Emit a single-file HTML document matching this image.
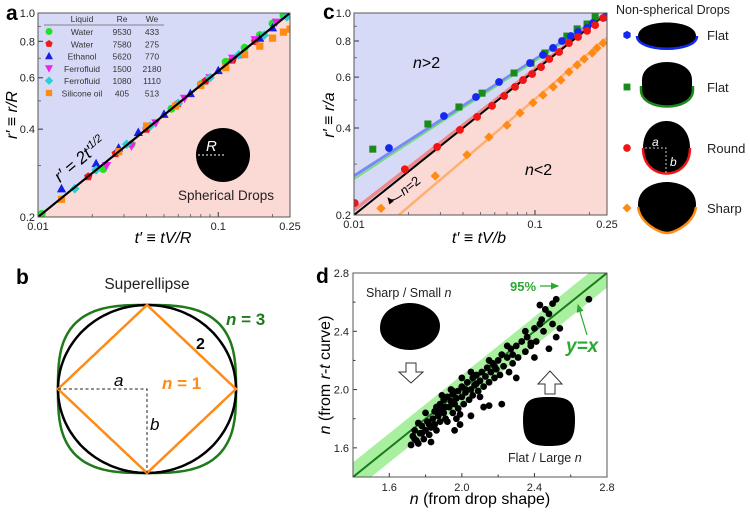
<!DOCTYPE html>
<html><head><meta charset="utf-8"><style>
html,body{margin:0;padding:0;background:#fff;}
svg{display:block;font-family:"Liberation Sans",Arial,sans-serif;}
</style></head><body>
<svg id="fig" width="750" height="512" viewBox="0 0 750 512" xmlns="http://www.w3.org/2000/svg">
<defs>
<clipPath id="clipA"><rect x="38" y="13" width="252" height="204"/></clipPath>
<clipPath id="clipC"><rect x="354" y="13" width="253" height="202"/></clipPath>
<clipPath id="clipD"><rect x="353" y="273" width="254" height="204"/></clipPath>
<marker id="arrG" markerWidth="8" markerHeight="8" refX="6" refY="4" orient="auto"><path d="M0,1 L7,4 L0,7 Z" fill="#2aa830"/></marker>
<marker id="arrK" markerWidth="8" markerHeight="8" refX="6" refY="4" orient="auto"><path d="M0,1 L7,4 L0,7 Z" fill="#000"/></marker>
</defs>
<g id="gA"></g>
<g id="gB"></g>
<g id="gC"></g>
<g id="gD"></g>
</svg>
<script>
// ---------- Panel a data ----------
const aGreenT=[0.0105,0.023,0.033,0.055,0.08,0.11,0.14,0.17,0.2,0.23];
const aGreenR=[0.205,0.292,0.355,0.47,0.57,0.68,0.76,0.84,0.92,0.98];
const aRedT=[0.019,0.027,0.04,0.06,0.085,0.12,0.16];
const aRedR=[0.275,0.33,0.4,0.49,0.585,0.69,0.8];
const aBlueT=[0.0135,0.021,0.028,0.036,0.05,0.07,0.1,0.13,0.17,0.2];
const aBlueR=[0.25,0.305,0.345,0.39,0.45,0.53,0.635,0.72,0.82,0.89];
const aMagT=[0.024,0.033,0.045,0.065,0.09,0.12,0.16,0.21,0.24];
const aMagR=[0.3,0.35,0.42,0.51,0.6,0.7,0.81,0.93,0.99];
const aCyanT=[0.016,0.021,0.031,0.042,0.06,0.09,0.13,0.18,0.24];
const aCyanR=[0.25,0.29,0.355,0.41,0.49,0.6,0.72,0.84,0.97];
const aOrT=[0.0135,0.028,0.04,0.058,0.08,0.11,0.14,0.17,0.2,0.23,0.25];
const aOrR=[0.23,0.335,0.41,0.48,0.565,0.65,0.72,0.77,0.82,0.86,0.88];
const aLegendLiquid=["Water","Water","Ethanol","Ferrofluid","Ferrofluid","Silicone oil"];
const aLegendRe=["9530","7580","5620","1500","1080","405"];
const aLegendWe=["433","275","770","2180","1110","513"];
const logYTicks=[0.2,0.4,0.6,0.8,1.0];
const logYLabels=["0.2","0.4","0.6","0.8","1.0"];
const logXTicks=[0.01,0.1,0.25];
const logXLabels=["0.01","0.1","0.25"];
// ---------- Panel c data ----------
const cBlueT=[0.0156,0.0314,0.0472,0.0633,0.0939,0.1107,0.1259,0.141,0.158,0.173,0.194,0.209,0.244];
const cBlueR=[0.341,0.440,0.512,0.577,0.671,0.716,0.757,0.800,0.832,0.859,0.887,0.923,0.968];
const cGreenT=[0.0127,0.0256,0.0380,0.0510,0.0766,0.0951,0.1135,0.150,0.171,0.194,0.215];
const cGreenR=[0.338,0.413,0.473,0.528,0.620,0.671,0.727,0.832,0.881,0.916,0.968];
const cRedT=[0.0101,0.0191,0.0288,0.0385,0.0479,0.0579,0.0675,0.0776,0.0859,0.0964,0.108,0.120,0.136,0.154,0.173,0.194,0.215,0.238];
const cRedR=[0.22,0.288,0.344,0.394,0.437,0.477,0.516,0.555,0.586,0.615,0.650,0.693,0.733,0.787,0.826,0.867,0.908,0.961];
const cOrT=[0.0141,0.0281,0.0421,0.0557,0.070,0.0826,0.0975,0.1107,0.126,0.139,0.154,0.171,0.187,0.207,0.220,0.238];
const cOrR=[0.211,0.273,0.323,0.372,0.409,0.451,0.489,0.520,0.555,0.586,0.625,0.661,0.693,0.727,0.757,0.787];
const cFitBlueT=[0.01,0.25], cFitBlueR=[0.273,1.0];
const cFitGreenT=[0.01,0.25], cFitGreenR=[0.266,0.99];
const cFitRedT=[0.01,0.25], cFitRedR=[0.208,1.0];
const cFitBlackT=[0.01,0.25], cFitBlackR=[0.2,1.0];
const cFitOrT=[0.0177,0.25], cFitOrR=[0.2,0.82];
// ---------- Panel d data ----------
const dShape=[1.72,1.73,1.74,1.75,1.76,1.77,1.78,1.79,1.8,1.81,1.82,1.83,1.84,1.85,1.85,1.86,1.87,1.88,1.88,1.89,1.90,1.90,1.91,1.92,1.93,1.94,1.95,1.95,1.96,1.97,1.97,1.98,1.98,1.99,2.0,2.0,2.01,2.02,2.03,2.04,2.05,2.06,2.06,2.07,2.08,2.09,2.10,2.11,2.12,2.13,2.14,2.15,2.16,2.17,2.18,2.19,2.2,2.21,2.22,2.23,2.25,2.26,2.27,2.28,2.30,2.31,2.33,2.35,2.36,2.38,2.40,2.41,2.43,2.45,2.46,2.48,2.50,2.50,2.52,2.52,2.54,2.48,2.70,2.43,1.83,1.86,1.92,1.96,1.99,2.05,2.12,2.15,2.22,2.10,2.3,2.4,1.76,1.8,1.89,1.94,2.0,2.05,2.15,2.25,2.35,1.74,1.78,1.82,1.87,1.91,1.95,2.02,2.08,2.18,2.28,2.38,2.44];
const dCurve=[1.62,1.68,1.72,1.65,1.63,1.70,1.75,1.66,1.72,1.78,1.69,1.74,1.80,1.85,1.76,1.88,1.82,1.90,1.78,1.86,1.93,1.84,1.80,1.95,1.88,1.92,1.84,1.97,1.90,1.80,1.94,1.99,1.87,1.76,1.95,2.02,1.90,1.98,2.05,1.93,2.0,2.08,1.96,2.03,2.10,1.99,2.06,2.12,2.02,2.09,2.15,2.05,2.12,2.18,2.08,2.14,2.20,2.10,2.24,2.16,2.22,2.12,2.28,2.18,2.30,2.22,2.33,2.26,2.36,2.30,2.42,2.33,2.45,2.40,2.55,2.52,2.59,2.45,2.62,2.36,2.42,2.28,2.62,2.58,1.64,1.72,1.78,1.72,1.83,1.82,1.88,1.89,1.9,1.95,2.08,2.22,1.77,1.84,1.96,2.0,2.08,2.12,2.20,2.30,2.40,1.66,1.70,1.76,1.86,1.88,1.99,2.00,2.04,2.16,2.24,2.32,2.48];
const dTicks=[1.6,2.0,2.4,2.8];
const dTickLabels=["1.6","2.0","2.4","2.8"];
const dBand=0.1;

const NS='http://www.w3.org/2000/svg';
function mk(tag,attrs,parent){const e=document.createElementNS(NS,tag);for(const k in attrs)e.setAttribute(k,attrs[k]);parent.appendChild(e);return e;}
function txt(s,attrs,parent){const e=mk('text',attrs,parent);e.textContent=s;return e;}
function logScale(d0,d1,p0,p1){return v=>p0+(Math.log10(v)-Math.log10(d0))/(Math.log10(d1)-Math.log10(d0))*(p1-p0);}
function linScale(d0,d1,p0,p1){return v=>p0+(v-d0)/(d1-d0)*(p1-p0);}
function markerPath(type,x,y,s){
  if(type==='circle')return `M${x-s},${y}a${s},${s} 0 1,0 ${2*s},0a${s},${s} 0 1,0 ${-2*s},0Z`;
  if(type==='square')return `M${x-s*0.9},${y-s*0.9}h${1.8*s}v${1.8*s}h${-1.8*s}Z`;
  if(type==='diamond')return `M${x},${y-s*1.2}L${x+s*1.2},${y}L${x},${y+s*1.2}L${x-s*1.2},${y}Z`;
  if(type==='tri')return `M${x},${y-s*1.2}L${x+s*1.15},${y+s*0.9}L${x-s*1.15},${y+s*0.9}Z`;
  if(type==='tridown')return `M${x},${y+s*1.2}L${x+s*1.15},${y-s*0.9}L${x-s*1.15},${y-s*0.9}Z`;
  let n=type==='pent'?5:6,p='';
  for(let i=0;i<n;i++){const a=-Math.PI/2+i*2*Math.PI/n;p+=(i?'L':'M')+(x+s*1.1*Math.cos(a))+','+(y+s*1.1*Math.sin(a));}
  return p+'Z';
}
function logAxes(g,xs,ys,x0,x1,y0,y1,xMinor,yMinor){
  for(const v of xMinor){const l=mk('line',{x1:xs(v),x2:xs(v),y1:y1,y2:y1-3,stroke:'#555','stroke-width':0.8},g);}
  for(const v of yMinor){const l=mk('line',{x1:x0,x2:x0+3,y1:ys(v),y2:ys(v),stroke:'#555','stroke-width':0.8},g);}
  logXTicks.forEach((v,i)=>{const l=mk('line',{x1:xs(v),x2:xs(v),y1:y1,y2:y1-5,stroke:'#333','stroke-width':1},g);
    const t=txt(logXLabels[i],{x:xs(v),y:y1+13,'font-size':11,'text-anchor':'middle',fill:'#222'},g);});
  logYTicks.forEach((v,i)=>{const l=mk('line',{x1:x0,x2:x0+5,y1:ys(v),y2:ys(v),stroke:'#333','stroke-width':1},g);
    const t=txt(logYLabels[i],{x:x0-3,y:ys(v)+4,'font-size':11,'text-anchor':'end',fill:'#222'},g);});
  const f=mk('rect',{x:x0,y:y0,width:x1-x0,height:y1-y0,fill:'none',stroke:'#555','stroke-width':1},g);
}
const xMinor=[0.02,0.03,0.04,0.05,0.06,0.07,0.08,0.09,0.2];
const yMinor=[0.3,0.5,0.7,0.9];

// ===== Panel a =====
(function(){
  const g=document.getElementById('gA');
  const X0=38,X1=290,Y0=13,Y1=217;
  const xs=logScale(0.01,0.25,X0,X1), ys=logScale(0.2,1.0,Y1,Y0);
  let p=mk('path',{d:`M${X0},${Y0}H${X1}L${X0},${Y1}Z`,fill:'#d7daf7'},g);
  p=mk('path',{d:`M${X1},${Y0}V${Y1}H${X0}Z`,fill:'#fbd9d5'},g);
  const lab=txt('a',{x:6,y:20,'font-size':21,'font-weight':'bold'},g);
  const dc=mk('circle',{cx:223,cy:155,r:27,fill:'#000'},g);
  const dl=mk('line',{x1:198,x2:224,y1:155,y2:155,stroke:'#fff','stroke-width':1,'stroke-dasharray':'2,2'},g);
  let t=txt('R',{x:206,y:151,'font-size':15,'font-style':'italic',fill:'#fff'},g);
  t=txt('Spherical Drops',{x:226,y:200,'font-size':13.5,'text-anchor':'middle',fill:'#222'},g);
  const series=[[aGreenT,aGreenR,'circle','#22e02a','green'],[aRedT,aRedR,'pent','#f01818','red'],[aBlueT,aBlueR,'tri','#1420e8','blue'],[aMagT,aMagR,'tridown','#f020f0','magenta'],[aCyanT,aCyanR,'diamond','#28d0d0','cyan'],[aOrT,aOrR,'square','#ff8a14','orange']];
  const sg=mk('g',{'clip-path':'url(#clipA)'},g);
  series.forEach(s=>{s[0].forEach((v,i)=>{const m=mk('path',{d:markerPath(s[2],xs(v),ys(s[1][i]),4),fill:s[3]},sg);});});
  const ln=mk('line',{x1:xs(0.01),y1:ys(0.2),x2:xs(0.25),y2:ys(1.0),stroke:'#000','stroke-width':2.2},sg);
  t=mk('text',{x:0,y:0,'font-size':17,'font-style':'italic',transform:'translate(60,183) rotate(-40)',fill:'#000'},g);t.innerHTML='r′ = 2t′<tspan dy="-6" font-size="11">1/2</tspan>';
  const lg=mk('g',{},g);
  const hx=[82,122,152],hs=['Liquid','Re','We'];
  hs.forEach((h,i)=>{const e=txt(h,{x:hx[i],y:22,'font-size':8.5,'text-anchor':'middle',fill:'#333'},lg);});
  const hl=mk('line',{x1:44,x2:164,y1:25,y2:25,stroke:'#666','stroke-width':0.7},lg);
  aLegendLiquid.forEach((L,i)=>{const y=32+i*12.3;
    const m=mk('path',{d:markerPath(series[i][2],49,y-0.5,3.5),fill:series[i][3]},lg);
    let e=txt(L,{x:82,y:y+3,'font-size':8.5,'text-anchor':'middle',fill:'#333'},lg);
    e=txt(aLegendRe[i],{x:122,y:y+3,'font-size':8.5,'text-anchor':'middle',fill:'#333'},lg);
    e=txt(aLegendWe[i],{x:152,y:y+3,'font-size':8.5,'text-anchor':'middle',fill:'#333'},lg);});
  logAxes(g,xs,ys,X0,X1,Y0,Y1,xMinor,yMinor);
  t=txt('r′ ≡ r/R',{x:0,y:0,'font-size':16,'font-style':'italic','text-anchor':'middle',transform:'translate(17,115) rotate(-90)'},g);
  t=txt('t′ ≡ tV/R',{x:163,y:243,'font-size':16,'font-style':'italic','text-anchor':'middle'},g);
})();

// ===== Panel b =====
(function(){
  const g=document.getElementById('gB');
  const cx=147,cy=389,a=89,b=84;
  let t=txt('b',{x:16,y:284,'font-size':21,'font-weight':'bold'},g);
  t=txt('Superellipse',{x:147,y:289,'font-size':15.5,'text-anchor':'middle',fill:'#222'},g);
  function se(n){let d='';for(let i=0;i<=200;i++){const th=i/200*2*Math.PI,c=Math.cos(th),s=Math.sin(th);const x=cx+a*Math.sign(c)*Math.pow(Math.abs(c),2/n),y=cy+b*Math.sign(s)*Math.pow(Math.abs(s),2/n);d+=(i?'L':'M')+x.toFixed(1)+','+y.toFixed(1);}return d+'Z';}
  let p=mk('path',{d:se(3),fill:'none',stroke:'#1f7a1a','stroke-width':2.5},g);
  p=mk('path',{d:se(2),fill:'none',stroke:'#000','stroke-width':2.5},g);
  p=mk('path',{d:se(1),fill:'none',stroke:'#ff8a14','stroke-width':2.5},g);
  p=mk('path',{d:`M${cx-a},${cy}H${cx}V${cy+b}`,fill:'none',stroke:'#222','stroke-width':1,'stroke-dasharray':'3,2.5'},g);
  t=txt('a',{x:114,y:386,'font-size':17,'font-style':'italic'},g);
  t=txt('b',{x:150,y:430,'font-size':17,'font-style':'italic'},g);
  t=txt('2',{x:196,y:349,'font-size':16,'font-weight':'bold'},g);
  t=mk('text',{x:162,y:389,'font-size':17,'font-weight':'bold',fill:'#ff8a14'},g);t.innerHTML='<tspan font-style="italic">n</tspan> = 1';
  t=mk('text',{x:226,y:325,'font-size':17,'font-weight':'bold',fill:'#1f7a1a'},g);t.innerHTML='<tspan font-style="italic">n</tspan> = 3';
})();

// ===== Panel c =====
(function(){
  const g=document.getElementById('gC');
  const X0=354,X1=607,Y0=13,Y1=215;
  const xs=logScale(0.01,0.25,X0,X1), ys=logScale(0.2,1.0,Y1,Y0);
  let p=mk('path',{d:`M${X0},${Y0}H${X1}L${X0},${Y1}Z`,fill:'#d7daf7'},g);
  p=mk('path',{d:`M${X1},${Y0}V${Y1}H${X0}Z`,fill:'#fbd9d5'},g);
  let t=txt('c',{x:323,y:19,'font-size':21,'font-weight':'bold'},g);
  const sg=mk('g',{'clip-path':'url(#clipC)'},g);
  const fits=[[cFitBlueT,cFitBlueR,'#7a8af0',3,'fit-blue'],[cFitGreenT,cFitGreenR,'#6ee070',1.5,'fit-green'],[cFitRedT,cFitRedR,'#f08a8a',3.5,'fit-red'],[cFitBlackT,cFitBlackR,'#000',2,'fit-n2'],[cFitOrT,cFitOrR,'#ffb070',2.5,'fit-orange']];
  fits.forEach(f=>{const l=mk('line',{x1:xs(f[0][0]),y1:ys(f[1][0]),x2:xs(f[0][1]),y2:ys(f[1][1]),stroke:f[2],'stroke-width':f[3]},sg);});
  const series=[[cGreenT,cGreenR,'square','#1a8a1a','green'],[cBlueT,cBlueR,'circle','#1428f0','blue'],[cRedT,cRedR,'circle','#f01414','red'],[cOrT,cOrR,'diamond','#ff8a14','orange']];
  series.forEach(s=>{s[0].forEach((v,i)=>{const m=mk('path',{d:markerPath(s[2],xs(v),ys(s[1][i]),3.9),fill:s[3]},sg);});});
  t=mk('text',{x:413,y:68,'font-size':16},g);t.innerHTML='<tspan font-style="italic">n</tspan>&gt;2';
  t=mk('text',{x:525,y:175,'font-size':16},g);t.innerHTML='<tspan font-style="italic">n</tspan>&lt;2';
  t=mk('text',{x:0,y:0,'font-size':13,transform:'translate(404,196) rotate(-38)'},g);t.innerHTML='<tspan font-style="italic">n</tspan>=2';
  p=mk('path',{d:'M402,195 Q392,203 388,198',fill:'none',stroke:'#000','stroke-width':1,'marker-end':'url(#arrK)'},g);
  logAxes(g,xs,ys,X0,X1,Y0,Y1,xMinor,yMinor);
  t=txt('r′ ≡ r/a',{x:0,y:0,'font-size':16,'font-style':'italic','text-anchor':'middle',transform:'translate(334,115) rotate(-90)'},g);
  t=txt('t′ ≡ tV/b',{x:479,y:243,'font-size':16,'font-style':'italic','text-anchor':'middle'},g);
  t=txt('Non-spherical Drops',{x:616,y:14,'font-size':12.5,fill:'#222'},g);
  const rows=[{y:35,mk:'hex',col:'#1428f0',lab:'Flat',d:'M638,36 C638,18 696,18 696,36 C696,52 638,52 638,36Z',arc:'M637,36 C637,53 697,53 697,36'},
    {y:87,mk:'square',col:'#1a8a1a',lab:'Flat',d:'M642,80 C642,56 692,56 692,80 V90 C692,111 642,111 642,90Z',arc:'M641,86 V90 C641,112 693,112 693,90 V86'},
    {y:148,mk:'circle',col:'#f01414',lab:'Round',d:'M643,148 C643,112 690,112 690,148 C690,182 643,182 643,148Z',arc:'M643,148 C643,182 690,182 690,148'},
    {y:208,mk:'diamond',col:'#ff8a14',lab:'Sharp',d:'M638,205 C638,185 660,182 667,182 C674,182 696,185 696,205 C696,222 675,232 667,232 C659,232 638,222 638,205Z',arc:'M638,207 C640,223 659,233 667,233 C675,233 694,223 696,207'}];
  rows.forEach(r=>{
    const m=mk('path',{d:markerPath(r.mk,627,r.y,3.8),fill:r.col},g);
    const s=mk('path',{d:r.d,fill:'#000'},g);
    const a=mk('path',{d:r.arc,fill:'none',stroke:r.col,'stroke-width':2.5},g);
    const l=txt(r.lab,{x:707,y:r.y+5,'font-size':13,fill:'#222'},g);
  });
  p=mk('path',{d:'M645,148 H666 V178',fill:'none',stroke:'#fff','stroke-width':0.8,'stroke-dasharray':'2,2'},g);
  t=txt('a',{x:652,y:146,'font-size':12,'font-style':'italic',fill:'#fff'},g);
  t=txt('b',{x:670,y:166,'font-size':12,'font-style':'italic',fill:'#fff'},g);
})();

// ===== Panel d =====
(function(){
  const g=document.getElementById('gD');
  const X0=353,X1=607,Y0=273,Y1=477;
  const xs=linScale(1.4,2.8,X0,X1), ys=linScale(1.4,2.8,Y1,Y0);
  let t=txt('d',{x:316,y:283,'font-size':21,'font-weight':'bold'},g);
  const cg=mk('g',{'clip-path':'url(#clipD)'},g);
  let p=mk('path',{d:`M${xs(1.4)},${ys(1.4-dBand)}L${xs(2.8)},${ys(2.8-dBand)}L${xs(2.8)},${ys(2.8+dBand)}L${xs(1.4)},${ys(1.4+dBand)}Z`,fill:'#a8f0a0'},cg);
  const l=mk('line',{x1:xs(1.4),y1:ys(1.4),x2:xs(2.8),y2:ys(2.8),stroke:'#1a7a1a','stroke-width':2},cg);
  dShape.forEach((v,i)=>{const c=mk('circle',{cx:xs(v),cy:ys(dCurve[i]),r:3.4,fill:'#000'},cg);});
  dTicks.forEach((v,i)=>{
    let k=mk('line',{x1:xs(v),x2:xs(v),y1:Y1,y2:Y1-4,stroke:'#333'},g);
    k=mk('line',{x1:X0,x2:X0+4,y1:ys(v),y2:ys(v),stroke:'#333'},g);
    let e=txt(dTickLabels[i],{x:xs(v),y:Y1+14,'font-size':11,'text-anchor':'middle',fill:'#222'},g);
    e=txt(dTickLabels[i],{x:X0-4,y:ys(v)+4,'font-size':11,'text-anchor':'end',fill:'#222'},g);
  });
  [1.8,2.2,2.6].forEach(v=>{let k=mk('line',{x1:xs(v),x2:xs(v),y1:Y1,y2:Y1-2.5,stroke:'#333'},g);
    k=mk('line',{x1:X0,x2:X0+2.5,y1:ys(v),y2:ys(v),stroke:'#333'},g);});
  const f=mk('rect',{x:X0,y:Y0,width:X1-X0,height:Y1-Y0,fill:'none',stroke:'#555'},g);
  t=mk('text',{x:366,y:297,'font-size':12.5,fill:'#222'},g);t.innerHTML='Sharp / Small <tspan font-style="italic">n</tspan>';
  p=mk('path',{d:'M380,328 C380,310 398,303 410,303 C424,303 440,312 440,326 C440,340 425,350 410,350 C395,350 380,342 380,328Z',fill:'#000'},g);
  p=mk('path',{d:'M406,363 H416 V372 H423 L411,383 L399,372 H406Z',fill:'#fff',stroke:'#333','stroke-width':1},g);
  p=mk('path',{d:'M523,420 C523,400 530,397 549,397 C568,397 575,400 575,420 C575,442 568,446 549,446 C530,446 523,442 523,420Z',fill:'#000'},g);
  p=mk('path',{d:'M545,394 H555 V384 H562 L550,371 L538,384 H545Z',fill:'#fff',stroke:'#333','stroke-width':1},g);
  t=mk('text',{x:508,y:462,'font-size':12.5,fill:'#222'},g);t.innerHTML='Flat / Large <tspan font-style="italic">n</tspan>';
  t=txt('95%',{x:510,y:291,'font-size':13,'font-weight':'bold',fill:'#2aa830'},g);
  p=mk('line',{x1:540,y1:286,x2:558,y2:286,stroke:'#2aa830','stroke-width':1.2,'marker-end':'url(#arrG)'},g);
  t=txt('y=x',{x:566,y:352,'font-size':19,'font-weight':'bold','font-style':'italic',fill:'#2aa830'},g);
  p=mk('line',{x1:587,y1:335,x2:578,y2:305,stroke:'#2aa830','stroke-width':1.2,'marker-end':'url(#arrG)'},g);
  t=mk('text',{x:0,y:0,'font-size':16,'text-anchor':'middle',transform:'translate(330,375) rotate(-90)'},g);t.innerHTML='<tspan font-style="italic">n</tspan> (from <tspan font-style="italic">r-t</tspan> curve)';
  t=mk('text',{x:480,y:504,'font-size':16,'text-anchor':'middle'},g);t.innerHTML='<tspan font-style="italic">n</tspan> (from drop shape)';
})();
</script>
</body></html>
